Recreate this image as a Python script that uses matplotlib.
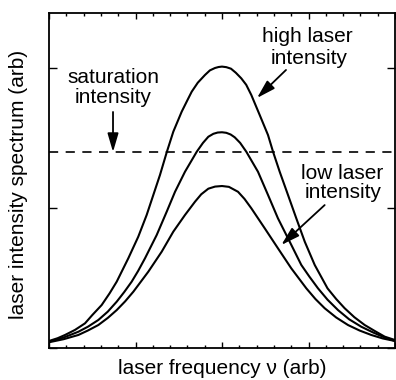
import matplotlib
matplotlib.use("Agg")
import matplotlib.pyplot as plt
from matplotlib.ticker import MultipleLocator

plt.rcParams['font.family'] = ['Liberation Sans', 'DejaVu Sans']

# --- data (x: frequency, arb; y: intensity, arb) ---
high_x = [0.0, 0.1, 0.185, 0.3, 0.416, 0.5, 0.609, 0.7, 0.783, 0.917, 1.032,
          1.129, 1.206, 1.283, 1.361, 1.437, 1.534, 1.60, 1.650, 1.72, 1.803,
          1.86, 1.919, 1.96, 2.0, 2.05, 2.104, 2.16, 2.223, 2.28, 2.339, 2.436,
          2.532, 2.590, 2.667, 2.763, 2.859, 2.957, 3.072, 3.15, 3.220, 3.32,
          3.418, 3.53, 3.650, 3.77, 3.881, 4.0]
high_y = [0.05, 0.07, 0.093, 0.129, 0.176, 0.235, 0.307, 0.39, 0.474, 0.641,
          0.795, 0.95, 1.093, 1.236, 1.398, 1.545, 1.688, 1.77, 1.831, 1.895,
          1.95, 1.983, 2.0, 2.007, 2.01, 2.006, 1.995, 1.966, 1.926, 1.88, 1.807,
          1.664, 1.521, 1.402, 1.259, 1.093, 0.926, 0.759, 0.593, 0.505, 0.426,
          0.35, 0.284, 0.22, 0.164, 0.12, 0.081, 0.057]

mid_x = [0.0, 0.17, 0.339, 0.45, 0.570, 0.68, 0.783, 0.87, 0.956, 1.03, 1.110,
         1.245, 1.361, 1.457, 1.572, 1.708, 1.78, 1.842, 1.90, 1.95, 2.0, 2.05,
         2.10, 2.147, 2.21, 2.281, 2.416, 2.532, 2.647, 2.783, 2.917, 3.01,
         3.110, 3.22, 3.341, 3.47, 3.610, 3.75, 3.881, 4.0]
mid_y = [0.045, 0.075, 0.116, 0.152, 0.2, 0.26, 0.331, 0.40, 0.474, 0.55, 0.641,
         0.807, 0.974, 1.116, 1.259, 1.402, 1.465, 1.509, 1.53, 1.539, 1.541,
         1.537, 1.525, 1.505, 1.465, 1.402, 1.259, 1.093, 0.926, 0.759, 0.593,
         0.51, 0.426, 0.345, 0.271, 0.205, 0.152, 0.11, 0.075, 0.05]

low_x = [0.0, 0.17, 0.339, 0.45, 0.570, 0.68, 0.783, 0.88, 0.975, 1.148, 1.303,
         1.437, 1.572, 1.688, 1.76, 1.842, 1.92, 2.0, 2.08, 2.185, 2.26, 2.339,
         2.494, 2.647, 2.801, 2.975, 3.08, 3.187, 3.32, 3.457, 3.59, 3.726,
         3.86, 4.0]
low_y = [0.041, 0.063, 0.093, 0.125, 0.164, 0.215, 0.271, 0.333, 0.402, 0.545,
         0.688, 0.831, 0.95, 1.045, 1.098, 1.138, 1.153, 1.157, 1.151, 1.116,
         1.065, 0.998, 0.855, 0.712, 0.569, 0.426, 0.35, 0.284, 0.218, 0.164,
         0.125, 0.093, 0.068, 0.05]

saturation_level = 1.4

W, H = 396, 380
fig = plt.figure(figsize=(W / 100, H / 100), dpi=100)
ax = fig.add_axes([49 / W, (H - 348) / H, 346 / W, 335 / H])

for xs, ys in [(high_x, high_y), (mid_x, mid_y), (low_x, low_y)]:
    ax.plot(xs, ys, color='black', lw=1.5, solid_joinstyle='round')

ax.axhline(saturation_level, color='black', lw=1.2, dashes=(5.5, 4.5))

ax.set_xlim(0, 4)
ax.set_ylim(0, 335 / 140)
ax.xaxis.set_major_locator(MultipleLocator(1))
ax.xaxis.set_minor_locator(MultipleLocator(0.2))
ax.yaxis.set_major_locator(MultipleLocator(1))
ax.tick_params(axis='both', which='both', direction='in', top=True, right=True,
               labelbottom=False, labelleft=False, color='black')
ax.tick_params(axis='x', which='major', length=4.5, width=1.0)
ax.tick_params(axis='x', which='minor', length=2.5, width=1.0)
ax.tick_params(axis='y', which='major', length=6, width=1.0)
for s in ax.spines.values():
    s.set_linewidth(1.3)

fs = 15


def ftext(px, py, s, **kw):
    fig.text(px / W, 1 - py / H, s, fontsize=fs, ha='center', va='baseline', **kw)


ftext(222, 374, 'laser frequency ν (arb)')
fig.text(18.5 / W, 1 - 184 / H, 'laser intensity spectrum (arb)', fontsize=fs,
         rotation=90, ha='center', va='center')

ftext(113, 83, 'saturation')
ftext(113, 103, 'intensity')
ftext(307, 42.5, 'high laser')
ftext(309, 63.5, 'intensity')
ftext(342, 179, 'low laser')
ftext(343, 198.5, 'intensity')

arrow = dict(arrowstyle='-|>,head_length=0.75,head_width=0.22', lw=1.3,
             color='black', mutation_scale=15, shrinkA=0, shrinkB=0)
ax.annotate('', xy=(0.74, 1.40), xytext=(0.74, 1.686), arrowprops=arrow)
ax.annotate('', xy=(2.405, 1.786), xytext=(2.74, 1.986), arrowprops=arrow)
ax.annotate('', xy=(2.686, 0.736), xytext=(3.187, 1.021), arrowprops=arrow)

fig.savefig('out.png', dpi=100)
